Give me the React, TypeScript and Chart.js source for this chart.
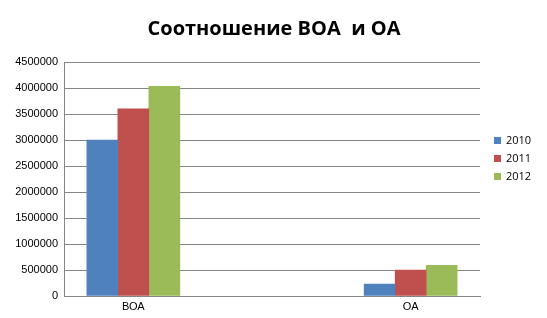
import React, { useEffect, useRef } from "react";
import { Chart, registerables } from "chart.js";

Chart.register(...registerables);

const categories = ["ВОА", "ОА"];
const seriesLabels = ["2010", "2011", "2012"];
const values2010 = [3000000, 230000];
const values2011 = [3600000, 500000];
const values2012 = [4030000, 590000];
const colors = ["#4F81BD", "#C0504D", "#9BBB59"];
const yTicks = [0, 500000, 1000000, 1500000, 2000000, 2500000, 3000000, 3500000, 4000000, 4500000];
const titleText = "Соотношение ВОА  и ОА";

const overlay = {
  id: "overlay",
  afterDraw(chart: any) {
    const ctx = chart.ctx;
    ctx.save();
    ctx.fillStyle = "#000";
    ctx.font = "bold 20px 'Open Sans'";
    ctx.textAlign = "center";
    ctx.textBaseline = "middle";
    ctx.fillText(titleText, 274, 29);
    ctx.font = "11px 'Open Sans'";
    ctx.textAlign = "left";
    chart.data.datasets.forEach((ds: any, i: number) => {
      const y = 141 + i * 18;
      ctx.fillStyle = ds.backgroundColor;
      ctx.fillRect(494, y - 4, 7, 7);
      ctx.fillStyle = "#000";
      ctx.fillText(ds.label, 506, y);
    });
    ctx.restore();
  },
};

export default function App() {
  const ref = useRef<HTMLCanvasElement>(null);
  useEffect(() => {
    const chart = new Chart(ref.current!, {
      type: "bar",
      data: {
        datasets: [values2010, values2011, values2012].map((d, i) => ({
          label: seriesLabels[i],
          data: d.map((v, j) => ({ x: j, y: v })),
          backgroundColor: colors[i],
          borderWidth: 0,
          barThickness: 31,
        })),
      },
      options: {
        animation: false,
        responsive: false,
        layout: { padding: { top: 62, right: 67, left: 0, bottom: 0 } },
        plugins: { legend: { display: false }, title: { display: false }, tooltip: { enabled: false } },
        scales: {
          x: {
            type: "linear",
            offset: false,
            min: -0.25,
            max: 1.25,
            afterBuildTicks: (s: any) => { s.ticks = categories.map((_, i) => ({ value: i })); },
            grid: { display: false, drawTicks: false, offset: false },
            border: { color: "#868686" },
            ticks: {
              color: "#000",
              font: { family: "'Liberation Sans'", size: 11 },
              padding: 4,
              maxRotation: 0,
              callback: (v: any) => categories[v] ?? "",
            },
            afterFit: (s: any) => { s.height = 22; },
          },
          y: {
            min: 0,
            max: 4500000,
            afterBuildTicks: (s: any) => { s.ticks = yTicks.map((v) => ({ value: v })); },
            grid: { color: "#868686", drawTicks: false },
            border: { color: "#868686" },
            ticks: { color: "#000", font: { family: "'Liberation Sans'", size: 11 }, padding: 6, callback: (v: any) => String(v) },
            afterFit: (s: any) => { s.width = 64; },
          },
        },
      },
      plugins: [overlay],
    });
    return () => chart.destroy();
  }, []);
  return (
    <div style={{ position: "fixed", left: 0, top: 0, width: 547, height: 318, background: "#fff" }}>
      <canvas ref={ref} width={547} height={318} style={{ width: 547, height: 318 }} />
    </div>
  );
}
